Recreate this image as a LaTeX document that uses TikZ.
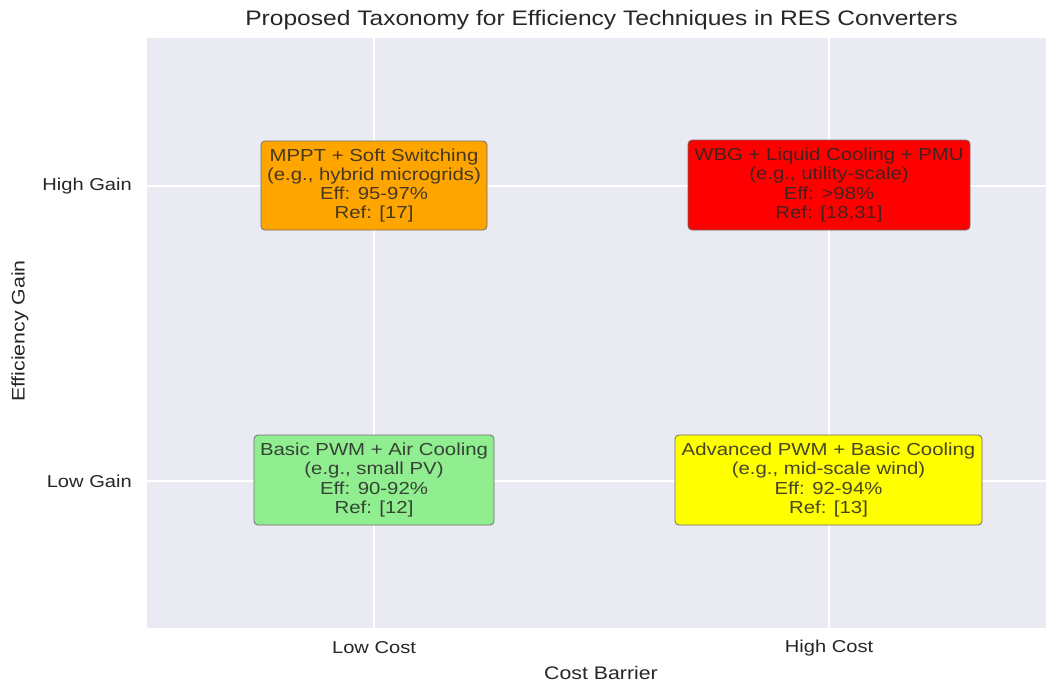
\documentclass[tikz,border=0pt]{standalone}
\usepackage{fontspec}
\setmainfont{Liberation Sans}[FakeStretch=1.17]
\definecolor{txt}{HTML}{262626}
\definecolor{bg}{HTML}{EAEAF2}
\definecolor{orangebox}{HTML}{FFA500}
\definecolor{redbox}{HTML}{FF0000}
\definecolor{greenbox}{HTML}{90EE90}
\definecolor{yellowbox}{HTML}{FFFF00}
\definecolor{edge}{HTML}{6E6E6E}
\tikzset{
  quad/.style={draw=edge, line width=0.8pt, rounded corners=4pt, align=center,
    text=txt, text opacity=0.85, inner sep=0pt,
    font=\fontsize{17.4}{19.3}\selectfont},
  ticklab/.style={text=txt, font=\fontsize{17.2}{19.3}\selectfont, inner sep=0pt},
  axlab/.style={text=txt, font=\fontsize{18.2}{20}\selectfont, inner sep=0pt},
  gridline/.style={white, line width=1.5pt}
}
\begin{document}
\begin{tikzpicture}[x=1pt,y=-1pt]
\useasboundingbox (0,0) rectangle (1046,682);
\fill[bg] (147,38) rectangle (1046,628);
\draw[gridline] (374,38) -- (374,628);
\draw[gridline] (829,38) -- (829,628);
\draw[gridline] (147,186) -- (1046,186);
\draw[gridline] (147,481) -- (1046,481);

\node[quad, fill=orangebox, minimum width=226pt, minimum height=89pt] (mppt) at (374,185.5)
  {MPPT + Soft Switching\\(e.g., hybrid microgrids)\\Eff: 95-97\%\\Ref: [17]};
\node[quad, fill=redbox, minimum width=282pt, minimum height=90pt] (wbg) at (829,185)
  {WBG + Liquid Cooling + PMU\\(e.g., utility-scale)\\Eff: >98\%\\Ref: [18,31]};
\node[quad, fill=greenbox, minimum width=240pt, minimum height=90pt] (pwm) at (374,480)
  {Basic PWM + Air Cooling\\(e.g., small PV)\\Eff: 90-92\%\\Ref: [12]};
\node[quad, fill=yellowbox, minimum width=307pt, minimum height=90pt] (adv) at (828.5,480)
  {Advanced PWM + Basic Cooling\\(e.g., mid-scale wind)\\Eff: 92-94\%\\Ref: [13]};

\node[ticklab, anchor=east] (hg) at (132,186) {High Gain};
\node[ticklab, anchor=east] (lg) at (132,481) {Low Gain};
\node[ticklab] (lc) at (374,648) {Low Cost};
\node[ticklab] (hc) at (829,648) {High Cost};
\node[axlab] (xl) at (601,673) {Cost Barrier};
\node[axlab, rotate=90] (yl) at (20,331) {Efficiency Gain};
\node[text=txt, font=\fontsize{21}{25}\selectfont, inner sep=0pt] (title) at (601.5,20)
  {Proposed Taxonomy for Efficiency Techniques in RES Converters};
\end{tikzpicture}
\end{document}
